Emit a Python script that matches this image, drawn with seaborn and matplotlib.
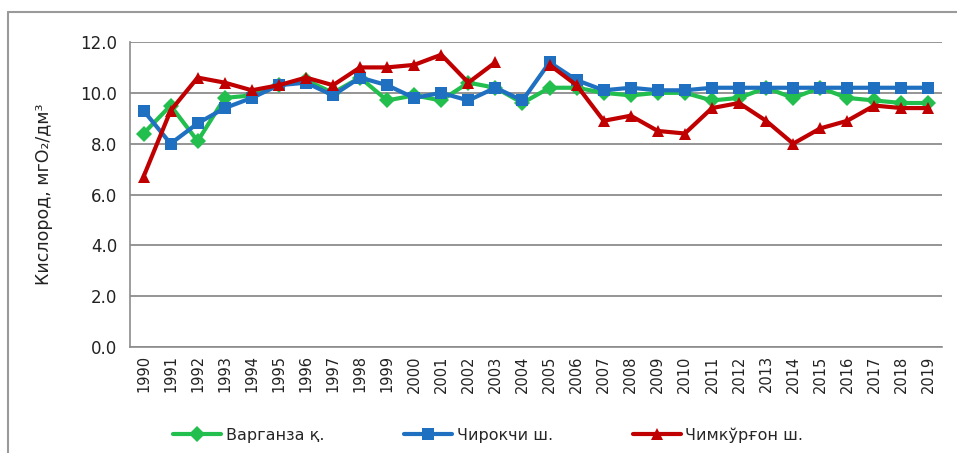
import numpy as np
import pandas as pd
import matplotlib
matplotlib.use("Agg")
import matplotlib.pyplot as plt
from matplotlib.lines import Line2D
from matplotlib.ticker import FixedLocator, FormatStrFormatter
import seaborn as sns

years = list(range(1990, 2020))
series_names = ["Варганза қ.", "Чирокчи ш.", "Чимкўрғон ш."]
varganza = [8.4, 9.5, 8.1, 9.8, 9.9, 10.3, 10.5, 10.0, 10.6, 9.7,
            9.9, 9.7, 10.4, 10.2, 9.6, 10.2, 10.2, 10.0, 9.9, 10.0,
            10.0, 9.7, 9.8, 10.2, 9.8, 10.2, 9.8, 9.7, 9.6, 9.6]
chirokchi = [9.3, 8.0, 8.8, 9.4, 9.8, 10.3, 10.4, 9.9, 10.6, 10.3,
             9.8, 10.0, 9.7, 10.2, 9.7, 11.2, 10.5, 10.1, 10.2, 10.1,
             10.1, 10.2, 10.2, 10.2, 10.2, 10.2, 10.2, 10.2, 10.2, 10.2]
chimkurgon = [6.7, 9.3, 10.6, 10.4, 10.1, 10.3, 10.6, 10.3, 11.0, 11.0,
              11.1, 11.5, 10.4, 11.2, np.nan, 11.1, 10.3, 8.9, 9.1, 8.5,
              8.4, 9.4, 9.6, 8.9, 8.0, 8.6, 8.9, 9.5, 9.4, 9.4]
colors = ["#22BF4E", "#1F70C1", "#C00000"]
markers = ["D", "s", "^"]

# long-form table; red series split at the missing year so the line breaks
rows = []
for name, vals in zip(series_names, [varganza, chirokchi, chimkurgon]):
    seg = 0
    for i, v in enumerate(vals):
        if np.isnan(v):
            seg += 1
            continue
        rows.append({"x": i, "value": v, "series": name, "seg": f"{name}_{seg}"})
df = pd.DataFrame(rows)

sns.set_style("white")
plt.rcParams["font.family"] = ["DejaVu Sans"]

fig = plt.figure(figsize=(9.57, 4.53), dpi=100)
ax = fig.add_axes([130/957, 1 - 347/453, (942-130)/957, (347-42)/453])

sns.lineplot(data=df, x="x", y="value", hue="series", style="series",
             units="seg", estimator=None, hue_order=series_names,
             style_order=series_names, palette=dict(zip(series_names, colors)),
             markers=dict(zip(series_names, markers)), dashes=False,
             linewidth=3, markersize=8, markeredgewidth=0, ax=ax, legend=False)

ax.set_xlim(-0.5, len(years) - 0.5)
ax.set_ylim(0, 12)
ax.set_yticks(np.arange(0, 12.1, 2))
ax.yaxis.set_major_formatter(FormatStrFormatter("%.1f"))
ax.yaxis.grid(True, color="#8C8C8C", linewidth=1.3)
ax.set_axisbelow(True)

ax.set_xticks(range(len(years)))
ax.set_xticklabels([str(y) for y in years], rotation=90, fontsize=10.5, color="#222222")
ax.xaxis.set_minor_locator(FixedLocator(np.arange(-0.5, len(years), 1)))
ax.tick_params(axis="x", which="major", length=0, pad=6)
ax.tick_params(axis="x", which="minor", length=6, color="#8C8C8C", width=1)
ax.tick_params(axis="y", length=5, color="#8C8C8C", width=1, labelsize=12, labelcolor="#222222", pad=4)

for s in ["top", "right"]:
    ax.spines[s].set_visible(False)
for s in ["left", "bottom"]:
    ax.spines[s].set_color("#8C8C8C")
    ax.spines[s].set_linewidth(1.2)

ax.set_xlabel("")
ax.set_ylabel("Кислород, мгО₂/дм³", fontsize=12.5, color="#222222", labelpad=20)

handles = [Line2D([0], [0], color=c, marker=m, linewidth=3, markersize=8,
                  markeredgewidth=0) for c, m in zip(colors, markers)]
fig.legend(handles, series_names, loc="center", bbox_to_anchor=(0.51, 1 - 435/453),
           ncol=3, frameon=False, fontsize=11.5, handlelength=3.0,
           columnspacing=5.0, handletextpad=0.3)

# outer frame
fig.add_artist(Line2D([8/957, 8/957], [0, 1 - 12/453], transform=fig.transFigure,
                      color="#9A9A9A", linewidth=1.5))
fig.add_artist(Line2D([8/957, 1], [1 - 12/453, 1 - 12/453], transform=fig.transFigure,
                      color="#9A9A9A", linewidth=1.5))

fig.savefig("out.png", dpi=100)
